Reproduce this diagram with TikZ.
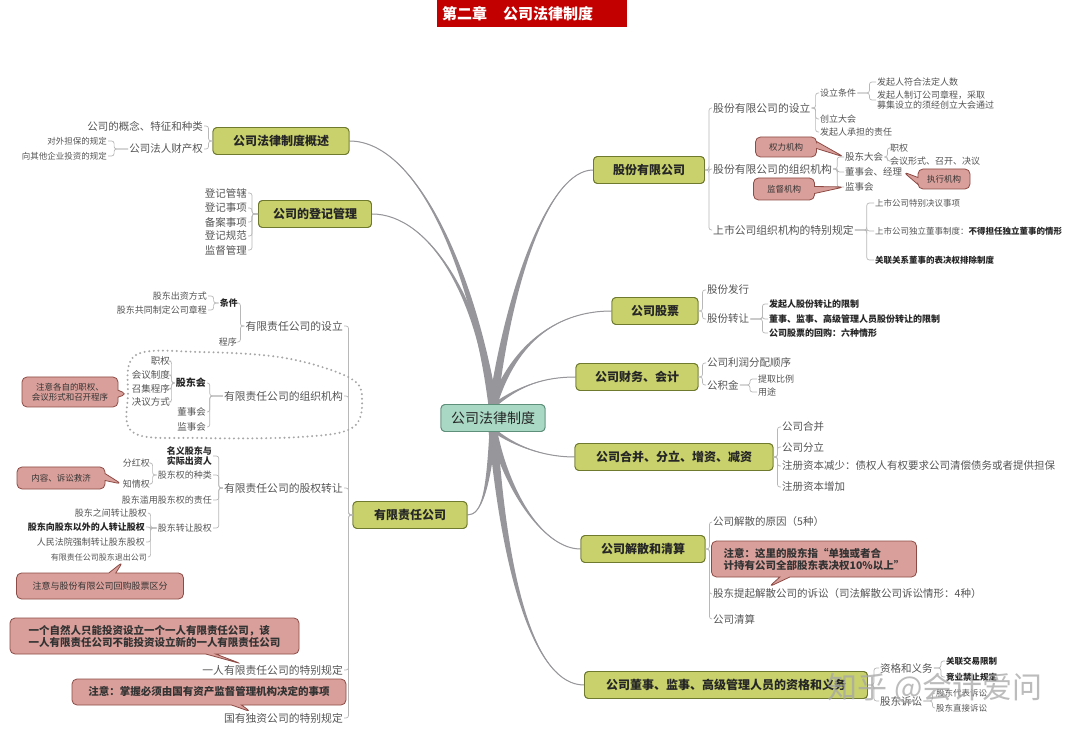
\documentclass[tikz,border=0pt]{standalone}
\usepackage{fontspec}
\setmainfont{Noto Sans CJK SC}
\usetikzlibrary{calc,shapes.callouts}
\definecolor{olvF}{HTML}{C8D16C}
\definecolor{olvB}{HTML}{6F7A2E}
\definecolor{mintF}{HTML}{A9D8C4}
\definecolor{mintB}{HTML}{5E8F7A}
\definecolor{noteF}{HTML}{D9A09B}
\definecolor{noteB}{HTML}{8E4B45}
\definecolor{lineG}{HTML}{B8B8B8}
\definecolor{branchG}{HTML}{97979B}
\definecolor{txtG}{HTML}{555555}
\definecolor{titleR}{HTML}{C20000}
\newcommand\brL[3]{\draw[br] (#2.west) -- ++(-#1,0) |- (#3.east);}
\newcommand\brR[3]{\draw[br] (#2.east) -- ++(#1,0) |- (#3.west);}
\newcommand\branch[5]{%
  \fill[branchG] ($(#1)+(-#5,0)$) .. controls ($#2+(-#5*0.5,0)$) and #3 .. (#4) .. controls #3 and ($#2+(#5*0.5,0)$) .. ($(#1)+(#5,0)$) -- cycle;
  \draw[branchG,line width=1pt] (#1) .. controls #2 and #3 .. (#4);}
\tikzset{
  base/.style={inner sep=1pt, text=txtG},
  tL/.style={base, font=\fontsize{10.8}{12}\selectfont},
  tl/.style={base, font=\fontsize{10.5}{12}\selectfont},
  tm/.style={base, font=\fontsize{9}{10.5}\selectfont},
  ts/.style={base, font=\fontsize{8.5}{10}\selectfont},
  tb/.style={inner sep=1pt, text=black!85, font=\bfseries\fontsize{9}{10.5}\selectfont},
  mainnode/.style={draw=olvB, fill=olvF, rounded corners=4pt, line width=0.9pt, minimum height=27pt,
    font=\bfseries\fontsize{12}{14}\selectfont, text=black!85, inner sep=2pt},
  rootnode/.style={mainnode, draw=mintB, fill=mintF, font=\fontsize{14}{16}\selectfont},
  note/.style={rectangle callout, draw=noteB, fill=noteF, rounded corners=5pt, line width=0.8pt,
    callout pointer width=7pt, text=black!80, inner sep=2pt, font=\fontsize{8.5}{10}\selectfont, align=center},
  bignote/.style={note, font=\bfseries\fontsize{10.5}{12}\selectfont, callout pointer width=10pt},
  br/.style={draw=lineG, line width=0.7pt, rounded corners=2.5pt},
}
\begin{document}
\begin{tikzpicture}[x=1pt,y=-1pt]
\useasboundingbox (0,0) rectangle (1080,735);
\fill[white] (0,0) rectangle (1080,735);

% title
\node[fill=titleR, text=white, anchor=north west, minimum height=27pt, text width=180pt, align=left,
  inner xsep=5pt, inner ysep=0pt, font=\bfseries\fontsize{15}{17}\selectfont] (title) at (437,0)
  {第二章\hspace{16pt}公司法律制度};

% ---------- main nodes ----------
\node[rootnode, minimum width=104pt] (root) at (493,418) {公司法律制度};
\coordinate (st) at ($(root.north)+(0,2)$);
\coordinate (sb) at ($(root.south)+(0,-2)$);

\node[mainnode, minimum width=136pt] (gs) at (281,141) {公司法律制度概述};
\node[mainnode, minimum width=113pt] (dj) at (315,214) {公司的登记管理};
\node[mainnode, minimum width=114pt] (yx) at (410,515) {有限责任公司};
\node[mainnode, minimum width=111pt] (gf) at (649,170) {股份有限公司};
\node[mainnode, minimum width=86pt] (gp) at (655,311) {公司股票};
\node[mainnode, minimum width=122pt] (cw) at (637,377) {公司财务、会计};
\node[mainnode, minimum width=198pt] (hb) at (674,457) {公司合并、分立、增资、减资};
\node[mainnode, minimum width=124pt] (js) at (643,549) {公司解散和清算};
\node[mainnode, minimum width=283pt] (ds) at (726,685) {公司董事、监事、高级管理人员的资格和义务};

% branches
\branch{st}{(475,280)}{(420,141)}{gs.east}{4.5}
\branch{st}{(480,300)}{(430,214)}{dj.east}{4}
\branch{st}{(510,280)}{(550,170)}{gf.west}{4.5}
\branch{st}{(515,340)}{(560,311)}{gp.west}{4}
\branch{st}{(520,385)}{(545,377)}{cw.west}{3.5}
\branch{sb}{(520,450)}{(550,457)}{hb.west}{3.5}
\branch{sb}{(508,495)}{(545,549)}{js.west}{4}
\branch{sb}{(505,580)}{(535,685)}{ds.west}{4.5}
\branch{sb}{(488,490)}{(482,515)}{yx.east}{3.5}

% redraw main nodes on top
\node[rootnode, minimum width=104pt] at (root) {公司法律制度};
\node[mainnode, minimum width=136pt] at (gs) {公司法律制度概述};
\node[mainnode, minimum width=113pt] at (dj) {公司的登记管理};
\node[mainnode, minimum width=114pt] at (yx) {有限责任公司};
\node[mainnode, minimum width=111pt] at (gf) {股份有限公司};
\node[mainnode, minimum width=86pt] at (gp) {公司股票};
\node[mainnode, minimum width=122pt] at (cw) {公司财务、会计};
\node[mainnode, minimum width=198pt] at (hb) {公司合并、分立、增资、减资};
\node[mainnode, minimum width=124pt] at (js) {公司解散和清算};
\node[mainnode, minimum width=283pt] at (ds) {公司董事、监事、高级管理人员的资格和义务};

% ================= LEFT SIDE =================
% 概述
\node[tl, anchor=east] (gn) at (204,126) {公司的概念、特征和种类};
\node[tl, anchor=east] (cc) at (204,149) {公司法人财产权};
\node[ts, anchor=east] (db) at (108,141) {对外担保的规定};
\node[ts, anchor=east] (tz) at (108,156) {向其他企业投资的规定};
\brL{4}{gs}{gn} \brL{4}{gs}{cc}
\brL{14}{cc}{db} \brL{14}{cc}{tz}

% 登记管理
\node[tl, anchor=east] (dj1) at (248,193) {登记管辖};
\node[tl, anchor=east] (dj2) at (248,208) {登记事项};
\node[tl, anchor=east] (dj3) at (248,222) {备案事项};
\node[tl, anchor=east] (dj4) at (248,236) {登记规范};
\node[tl, anchor=east] (dj5) at (248,250) {监督管理};
\foreach \c in {dj1,dj2,dj3,dj4,dj5}{\brL{6}{dj}{\c}}

% 有限责任公司
\node[tL, anchor=east] (yxsl) at (344,326) {有限责任公司的设立};
\node[tL, anchor=east] (yxzz) at (344,396) {有限责任公司的组织机构};
\node[tL, anchor=east] (yxgq) at (344,488) {有限责任公司的股权转让};
\node[tL, anchor=east] (yrgs) at (344,670) {一人有限责任公司的特别规定};
\node[tL, anchor=east] (gydz) at (344,718) {国有独资公司的特别规定};
\foreach \c in {yxsl,yxzz,yxgq,yrgs,gydz}{\brL{4}{yx}{\c}}

% 设立
\node[tb, anchor=east] (tj) at (239,303) {条件};
\node[tm, anchor=east] (cx) at (238,342) {程序};
\node[tm, anchor=east] (czfs) at (208,296) {股东出资方式};
\node[tm, anchor=east] (zdzc) at (208,310) {股东共同制定公司章程};
\brL{4}{yxsl}{tj} \brL{4}{yxsl}{cx}
\brL{5}{tj}{czfs} \brL{5}{tj}{zdzc}

% 组织机构
\draw[gray!70, line width=2.2pt, line cap=round, dash pattern=on 0pt off 4.6pt]
  plot[smooth cycle, tension=0.6] coordinates {(128,395) (136,355) (200,352) (285,358) (350,378) (362,400) (352,428) (300,437) (200,438) (134,433)};
\node[tb, anchor=east, font=\bfseries\fontsize{10}{12}\selectfont] (gdh) at (207,383) {股东会};
\node[tm, anchor=east, font=\fontsize{9.5}{11}\selectfont] (dsh2) at (207,412) {董事会};
\node[tm, anchor=east, font=\fontsize{9.5}{11}\selectfont] (jsh2) at (207,427) {监事会};
\node[tm, anchor=east, font=\fontsize{9.5}{11}\selectfont] (zq1) at (171,361) {职权};
\node[tm, anchor=east, font=\fontsize{9.5}{11}\selectfont] (hyzd) at (171,375) {会议制度};
\node[tm, anchor=east, font=\fontsize{9.5}{11}\selectfont] (zjcx) at (171,389) {召集程序};
\node[tm, anchor=east, font=\fontsize{9.5}{11}\selectfont] (jyfs) at (171,402) {决议方式};
\brL{13}{yxzz}{gdh} \brL{13}{yxzz}{dsh2} \brL{13}{yxzz}{jsh2}
\foreach \c in {zq1,hyzd,zjcx,jyfs}{\brL{3}{gdh}{\c}}
\node[note, minimum width=96pt, minimum height=30pt, callout absolute pointer={(127,394)}] (n1) at (70,392)
  {注意各自的职权、\\会议形式和召开程序};

% 股权转让
\node[tb, anchor=east, align=center] (mygd) at (213,456) {名义股东与\\实际出资人};
\node[tm, anchor=east] (gdqzl) at (213,475) {股东权的种类};
\node[tm, anchor=east] (lyzr) at (213,500) {股东滥用股东权的责任};
\node[tm, anchor=east] (gdzr) at (213,528) {股东转让股权};
\foreach \c in {mygd,gdqzl,lyzr,gdzr}{\brL{4}{yxgq}{\c}}
\node[tm, anchor=east] (fhq) at (151,463) {分红权};
\node[tm, anchor=east] (zqq) at (151,484) {知情权};
\brL{4}{gdqzl}{fhq} \brL{4}{gdqzl}{zqq}
\node[tm, anchor=east] (zr1) at (148,513) {股东之间转让股权};
\node[tb, anchor=east] (zr2) at (146,527) {股东向股东以外的人转让股权};
\node[tm, anchor=east] (zr3) at (146,542) {人民法院强制转让股东股权};
\node[tm, anchor=east, font=\fontsize{8}{9}\selectfont] (zr4) at (148,557) {有限责任公司股东退出公司};
\foreach \c in {zr1,zr2,zr3,zr4}{\brL{6}{gdzr}{\c}}
\node[note, minimum width=88pt, minimum height=22pt, callout absolute pointer={(zqq.west)}] (n2) at (61,478) {内容、诉讼救济};
\node[note, minimum width=167pt, minimum height=26pt, font=\fontsize{9}{10}\selectfont,
  callout absolute pointer={($(zr4.south)+(24,0)$)}] (n3) at (100,586) {注意与股份有限公司回购股票区分};

% 一人 / 国有独资
\node[bignote, minimum width=289pt, minimum height=36pt, align=left,
  callout absolute pointer={($(yrgs.north west)+(40,0)$)}] (n4) at (154.5,636)
  {一个自然人只能投资设立一个一人有限责任公司，该\\一人有限责任公司不能投资设立新的一人有限责任公司};
\node[bignote, minimum width=274pt, minimum height=26pt,
  callout absolute pointer={($(gydz.north west)+(28,0)$)}] (n5) at (209,692)
  {注意：掌握必须由国有资产监督管理机构决定的事项};

% ================= RIGHT SIDE =================
% 股份有限公司
\node[tL, anchor=west] (gfsl) at (712,108) {股份有限公司的设立};
\node[tL, anchor=west] (gfzz) at (712,169) {股份有限公司的组织机构};
\node[tL, anchor=west] (sszz) at (712,230) {上市公司组织机构的特别规定};
\foreach \c in {gfsl,gfzz,sszz}{\brR{4}{gf}{\c}}

\node[tm, anchor=west] (sltj) at (819,93) {设立条件};
\node[tm, anchor=west] (cldh) at (819,119) {创立大会};
\node[tm, anchor=west] (fqzr) at (819,132) {发起人承担的责任};
\foreach \c in {sltj,cldh,fqzr}{\brR{4}{gfsl}{\c}}
\node[tm, anchor=west] (fq1) at (876,82) {发起人符合法定人数};
\node[tm, anchor=west, align=left, font=\fontsize{9}{9.5}\selectfont] (fq2) at (876,100) {发起人制订公司章程，采取\\募集设立的须经创立大会通过};
\brR{12}{sltj}{fq1} \brR{12}{sltj}{fq2}

\node[tm, anchor=west, font=\fontsize{9.5}{11}\selectfont] (gddh) at (844,157) {股东大会};
\node[tm, anchor=west, font=\fontsize{9.5}{11}\selectfont] (dsh) at (844,172) {董事会、经理};
\node[tm, anchor=west, font=\fontsize{9.5}{11}\selectfont] (jsh) at (844,187) {监事会};
\foreach \c in {gddh,dsh,jsh}{\brR{4}{gfzz}{\c}}
\node[tm, anchor=west] (zq2) at (889,148) {职权};
\node[tm, anchor=west] (hyxs) at (889,161) {会议形式、召开、决议};
\brR{3}{gddh}{zq2} \brR{3}{gddh}{hyxs}

\node[ts, anchor=west] (ss1) at (874,203) {上市公司特别决议事项};
\node[ts, anchor=west] (ss2) at (874,231) {上市公司独立董事制度：{\bfseries\color{black!85}不得担任独立董事的情形}};
\node[tb, anchor=west, font=\bfseries\fontsize{8.5}{10}\selectfont] (ss3) at (874,260) {关联关系董事的表决权排除制度};
\foreach \c in {ss1,ss2,ss3}{\brR{12}{sszz}{\c}}

\node[note, minimum width=61pt, minimum height=20pt, callout absolute pointer={(gddh.west)}] (n7) at (786,147) {权力机构};
\node[note, minimum width=52pt, minimum height=20pt, callout absolute pointer={(dsh.east)}] (n8) at (944,179) {执行机构};
\node[note, minimum width=61pt, minimum height=22pt, callout absolute pointer={(jsh.west)}] (n9) at (784,189) {监督机构};

% 公司股票
\node[tl, anchor=west] (gfxx) at (706,290) {股份发行};
\node[tl, anchor=west] (gfzr) at (706,319) {股份转让};
\brR{4}{gp}{gfxx} \brR{4}{gp}{gfzr}
\node[tb, anchor=west] (gz1) at (768,304) {发起人股份转让的限制};
\node[tb, anchor=west] (gz2) at (768,319) {董事、监事、高级管理人员股份转让的限制};
\node[tb, anchor=west] (gz3) at (768,333) {公司股票的回购：六种情形};
\foreach \c in {gz1,gz2,gz3}{\brR{12}{gfzr}{\c}}

% 财务会计
\node[tl, anchor=west] (lrfp) at (706,363) {公司利润分配顺序};
\node[tl, anchor=west] (gjj) at (706,385) {公积金};
\brR{4}{cw}{lrfp} \brR{4}{cw}{gjj}
\node[tm, anchor=west] (tqbl) at (757,379) {提取比例};
\node[tm, anchor=west] (yt) at (757,392) {用途};
\brR{10}{gjj}{tqbl} \brR{10}{gjj}{yt}

% 合并分立
\node[tl, anchor=west] (hb1) at (781,427) {公司合并};
\node[tl, anchor=west] (hb2) at (781,447) {公司分立};
\node[tl, anchor=west] (hb3) at (781,466) {注册资本减少：债权人有权要求公司清偿债务或者提供担保};
\node[tl, anchor=west] (hb4) at (781,487) {注册资本增加};
\foreach \c in {hb1,hb2,hb3,hb4}{\brR{4}{hb}{\c}}

% 解散清算
\node[tl, anchor=west] (js1) at (712,522) {公司解散的原因（5种）};
\node[tl, anchor=west] (js2) at (712,594) {股东提起解散公司的诉讼（司法解散公司诉讼情形：4种）};
\node[tl, anchor=west] (js3) at (712,619) {公司清算};
\foreach \c in {js1,js2,js3}{\brR{4}{js}{\c}}
\node[bignote, minimum width=205pt, minimum height=36pt, align=left,
  callout absolute pointer={($(js2.north west)+(57,-1)$)}] (n6) at (814,559)
  {注意：这里的股东指“单独或者合\\计持有公司全部股东表决权10\%以上”};

% 董事监事
\node[tl, anchor=west] (zgyw) at (879,668) {资格和义务};
\node[tl, anchor=west] (gdss) at (879,701) {股东诉讼};
\brR{6}{ds}{zgyw} \brR{6}{ds}{gdss}
\node[tb, anchor=west, font=\bfseries\fontsize{8.5}{10}\selectfont] (gl1) at (945,661) {关联交易限制};
\node[tb, anchor=west, font=\bfseries\fontsize{8.5}{10}\selectfont] (gl2) at (945,677) {竞业禁止规定};
\brR{7}{zgyw}{gl1} \brR{7}{zgyw}{gl2}
\node[ts, anchor=west] (dbss) at (935,693) {股东代表诉讼};
\node[ts, anchor=west] (zjss) at (935,708) {股东直接诉讼};
\brR{9}{gdss}{dbss} \brR{9}{gdss}{zjss}

% watermark
\node[text=black!35, opacity=0.75, font=\fontsize{30}{32}\selectfont] (wm) at (935,688) {知乎 @会计爱问};
\end{tikzpicture}
\end{document}
